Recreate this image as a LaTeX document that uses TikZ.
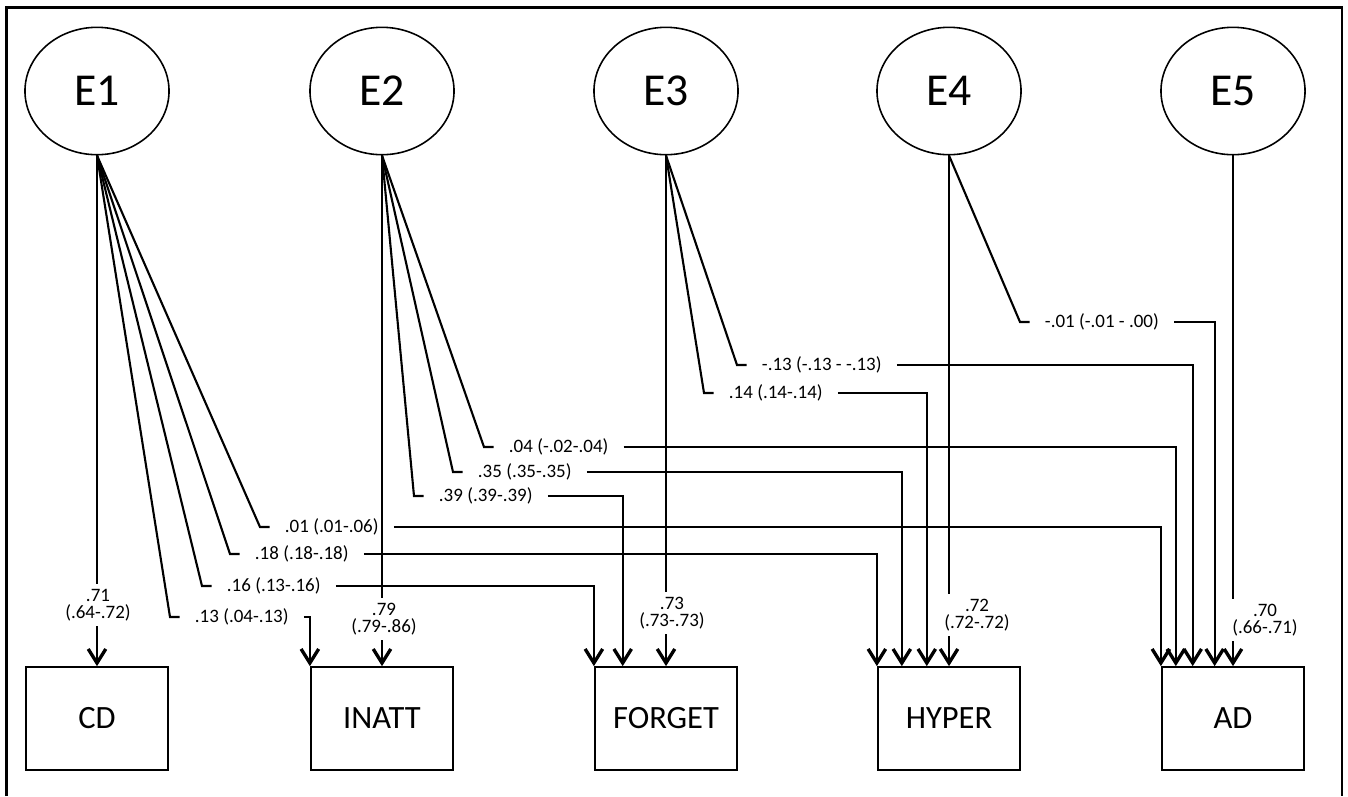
\documentclass[tikz,border=0pt]{standalone}
\usepackage{fontspec}
\setmainfont{Carlito}
\usetikzlibrary{positioning,shapes.geometric,arrows.meta}

\tikzset{
  latent/.style={draw, ellipse, line width=0.9pt, inner sep=0pt, minimum width=82pt, minimum height=72.5pt, font=\fontsize{26}{26}\selectfont},
  observed/.style={draw, rectangle, line width=1.1pt, inner sep=0pt, minimum width=81pt, minimum height=58.5pt, font=\fontsize{18.5}{20}\selectfont},
  coef/.style={inner xsep=8.5pt, inner ysep=1pt, font=\fontsize{10.8}{12}\selectfont},
  loading/.style={fill=white, align=center, inner xsep=1.5pt, inner ysep=3pt, font=\fontsize{10.8}{9.8}\selectfont},
  link/.style={line width=1.2pt},
  effect/.style={line width=1.2pt, -{Straight Barb[length=8pt,width=10pt,line width=1.9pt]}}
}

\begin{document}
\begin{tikzpicture}[x=0.02cm, y=-0.02cm]
  \useasboundingbox (0,0) rectangle (1348,796);
  \draw[line width=1.3pt] (6.5,796) -- (6.5,7.5) -- (1342,7.5) -- (1342,796);

  % error terms
  \node[latent] (E1) at (97,91) {E1};
  \node[latent] (E2) at (382,91) {E2};
  \node[latent] (E3) at (666,91) {E3};
  \node[latent] (E4) at (949,91) {E4};
  \node[latent] (E5) at (1233,91) {E5};

  % observed variables
  \node[observed] (CD) at (97,718.5) {CD};
  \node[observed] (INATT) at (382,718.5) {INATT};
  \node[observed] (FORGET) at (666,718.5) {FORGET};
  \node[observed] (HYPER) at (949,718.5) {HYPER};
  \node[observed] (AD) at (1233,718.5) {AD};

  % corners of the cross paths
  \coordinate (k1i) at (170,617);
  \coordinate (k1f) at (202,586);
  \coordinate (k1h) at (230,554);
  \coordinate (k1a) at (260,527);
  \coordinate (k2f) at (414,496);
  \coordinate (k2h) at (453,472);
  \coordinate (k2a) at (484,447);
  \coordinate (k3h) at (704,393);
  \coordinate (k3a) at (737,365);
  \coordinate (k4a) at (1020,322);

  \node[coef, right=5.5pt of k1i] (w1i) {.13 (.04-.13)};
  \node[coef, right=5.5pt of k1f] (w1f) {.16 (.13-.16)};
  \node[coef, right=5.5pt of k1h] (w1h) {.18 (.18-.18)};
  \node[coef, right=5.5pt of k1a] (w1a) {.01 (.01-.06)};
  \node[coef, right=5.5pt of k2f] (w2f) {.39 (.39-.39)};
  \node[coef, right=5.5pt of k2h] (w2h) {.35 (.35-.35)};
  \node[coef, right=5.5pt of k2a] (w2a) {.04 (-.02-.04)};
  \node[coef, right=5.5pt of k3h] (w3h) {.14 (.14-.14)};
  \node[coef, right=5.5pt of k3a] (w3a) {-.13 (-.13 - -.13)};
  \node[coef, right=5.5pt of k4a] (w4a) {-.01 (-.01 - .00)};

  % E1
  \draw[link] (E1.south) -- (k1i) -- (w1i);
  \draw[effect] (w1i) -| (INATT.north west);
  \draw[link] (E1.south) -- (k1f) -- (w1f);
  \draw[effect] (w1f) -| (FORGET.north west);
  \draw[link] (E1.south) -- (k1h) -- (w1h);
  \draw[effect] (w1h) -| (HYPER.north west);
  \draw[link] (E1.south) -- (k1a) -- (w1a);
  \draw[effect] (w1a) -| (AD.north west);
  % E2
  \draw[link] (E2.south) -- (k2f) -- (w2f);
  \draw[effect] (w2f) -| ([xshift=16.4pt]FORGET.north west);
  \draw[link] (E2.south) -- (k2h) -- (w2h);
  \draw[effect] (w2h) -| ([xshift=14.2pt]HYPER.north west);
  \draw[link] (E2.south) -- (k2a) -- (w2a);
  \draw[effect] (w2a) -| ([xshift=8.5pt]AD.north west);
  % E3
  \draw[link] (E3.south) -- (k3h) -- (w3h);
  \draw[effect] (w3h) -| ([xshift=28.4pt]HYPER.north west);
  \draw[link] (E3.south) -- (k3a) -- (w3a);
  \draw[effect] (w3a) -| ([xshift=18.1pt]AD.north west);
  % E4
  \draw[link] (E4.south) -- (k4a) -- (w4a);
  \draw[effect] (w4a) -| ([xshift=30.6pt]AD.north west);

  % direct paths
  \draw[effect] (E1.south) -- (CD.north);
  \draw[effect] (E2.south) -- (INATT.north);
  \draw[effect] (E3.south) -- (FORGET.north);
  \draw[effect] (E4.south) -- (HYPER.north);
  \draw[effect] (E5.south) -- (AD.north);
  \node[loading] (v1) at (98,605) {.71\\(.64-.72)};
  \node[loading] (v2) at (384,619) {.79\\(.79-.86)};
  \node[loading] (v3) at (672,613) {.73\\(.73-.73)};
  \node[loading] (v4) at (977,615) {.72\\(.72-.72)};
  \node[loading] (v5) at (1265,620) {.70\\(.66-.71)};
\end{tikzpicture}
\end{document}
